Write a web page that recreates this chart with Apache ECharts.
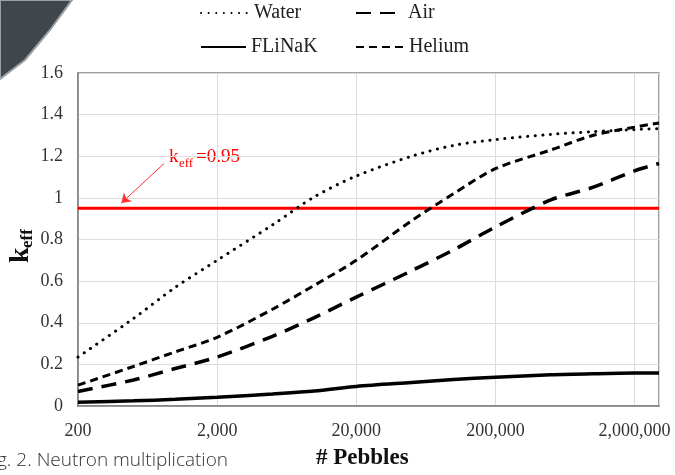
<!DOCTYPE html>
<html>
<head>
<meta charset="utf-8">
<script src="https://cdn.jsdelivr.net/npm/echarts@6/dist/echarts.min.js"></script>
<style>
html, body { margin: 0; padding: 0; background: #fff; }
#main { width: 675px; height: 475px; }
</style>
</head>
<body>
<div id="main"></div>
<script>
// number of pebbles (x), k_eff per coolant (y)
var pebbles = [200, 500, 1000, 2000, 5000, 10000, 20000, 50000, 100000, 200000, 500000, 1000000, 2000000, 3000000];
var water  = [0.235, 0.42, 0.57, 0.70, 0.87, 1.005, 1.105, 1.20, 1.252, 1.28, 1.305, 1.318, 1.328, 1.333];
var air    = [0.07, 0.125, 0.18, 0.235, 0.335, 0.425, 0.523, 0.65, 0.75, 0.86, 0.99, 1.05, 1.13, 1.165];
var flinak = [0.018, 0.025, 0.032, 0.042, 0.058, 0.072, 0.094, 0.113, 0.127, 0.138, 0.15, 0.155, 0.158, 0.158];
var helium = [0.10, 0.19, 0.26, 0.33, 0.465, 0.58, 0.70, 0.89, 1.02, 1.14, 1.23, 1.30, 1.34, 1.36];
var xTicks = [200, 2000, 20000, 200000, 2000000];
var threshold = 0.95;

var chart;
var option;

// x axis is decades above 200 pebbles
function toX(p) {
    return Math.log10(p / 200);
}
function pairs(ys) {
    var out = [];
    for (var i = 0; i < pebbles.length; i++) {
        out.push([toX(pebbles[i]), ys[i]]);
    }
    return out;
}

function initOption() {
    var xMax = toX(pebbles[pebbles.length - 1]);
    var serif = '"Liberation Serif", "Times New Roman", serif';
    // one legend per item so each can sit where the figure has it
    var legendBase = function (name, left, top, w) {
        return {
            data: [name],
            left: left,
            top: top,
            padding: 0,
            itemGap: 0,
            itemWidth: w,
            itemHeight: 12,
            itemStyle: { color: 'rgba(0,0,0,0)', borderColor: 'rgba(0,0,0,0)', borderWidth: 0 },
            textStyle: { fontFamily: serif, fontSize: 20, color: '#222' }
        };
    };
    option = {
        animation: false,
        backgroundColor: '#fff',
        legend: [
            legendBase('Water', 200, 3, 48),
            legendBase('Air', 355, 3, 47),
            legendBase('FLiNaK', 200, 37, 45),
            legendBase('Helium', 355, 37, 48)
        ],
        grid: {
            left: 78, right: 16, top: 73, bottom: 69,
            outerBoundsMode: 'none',
            show: true,
            borderColor: '#808080',
            borderWidth: 1.5
        },
        xAxis: {
            type: 'value',
            min: 0,
            max: xMax,
            interval: 1,
            axisLine: { show: true, lineStyle: { color: '#808080', width: 1.5 } },
            axisTick: { show: false },
            splitLine: { show: true, lineStyle: { color: '#dcdcdc', width: 1 } },
            axisLabel: {
                showMaxLabel: false,
                margin: 16,
                fontFamily: serif,
                fontSize: 18,
                color: '#333',
                formatter: function (v) {
                    var i = Math.round(v);
                    if (Math.abs(v - i) > 1e-6 || i >= xTicks.length) return '';
                    return xTicks[i].toLocaleString('en-US');
                }
            }
        },
        yAxis: {
            type: 'value',
            min: 0,
            max: 1.6,
            interval: 0.2,
            axisLine: { show: true, lineStyle: { color: '#808080', width: 1.5 } },
            axisTick: { show: false },
            splitLine: { show: true, lineStyle: { color: '#dcdcdc', width: 1 } },
            axisLabel: {
                margin: 15,
                fontFamily: serif,
                fontSize: 18,
                color: '#333',
                formatter: function (v) { return String(Math.round(v * 10) / 10); }
            }
        },
        series: [
            {
                name: 'Water', type: 'line', data: pairs(water), smooth: 0.3,
                symbol: 'none', color: '#000',
                lineStyle: { color: '#000', width: 3, type: [0.1, 7.5], cap: 'round' }
            },
            {
                name: 'Air', type: 'line', data: pairs(air), smooth: 0.3,
                symbol: 'none', color: '#000',
                lineStyle: { color: '#000', width: 3.5, type: [15, 9] }
            },
            {
                name: 'FLiNaK', type: 'line', data: pairs(flinak), smooth: 0.3,
                symbol: 'none', color: '#000',
                lineStyle: { color: '#000', width: 3.5, type: 'solid' }
            },
            {
                name: 'Helium', type: 'line', data: pairs(helium), smooth: 0.3,
                symbol: 'none', color: '#000',
                lineStyle: { color: '#000', width: 3, type: [8, 5] }
            },
            {
                name: 'keff', type: 'line', data: [[0, threshold], [xMax, threshold]],
                symbol: 'none', z: 1,
                lineStyle: { color: '#ff0000', width: 3 },
                markLine: {
                    silent: true,
                    symbol: ['none', 'arrow'],
                    symbolSize: 9,
                    label: { show: false },
                    lineStyle: { color: '#ff3030', width: 1, type: 'solid' },
                    data: [[
                        { coord: [toX(830), 1.165] },
                        { coord: [toX(410), 0.975] }
                    ]]
                }
            }
        ],
        graphic: [
            {
                type: 'polygon', z: 100,
                shape: { points: [[0, 0], [72, 0], [50, 30], [25, 60], [0, 79]] },
                style: { fill: '#3f464c', stroke: '#9aa0a5', lineWidth: 2 }
            },
            { type: 'text', left: 169, top: 148, style: { text: 'k', fill: '#ff0000', font: '19px ' + serif } },
            { type: 'text', left: 179, top: 157, style: { text: 'eff', fill: '#ff0000', font: '13px ' + serif } },
            { type: 'text', left: 196, top: 148, style: { text: '=0.95', fill: '#ff0000', font: '19px ' + serif } },
            {
                type: 'group', x: 7, y: 263, rotation: Math.PI / 2,
                children: [
                    { type: 'text', x: 0, y: 0, style: { text: 'k', fill: '#111', font: 'bold 28px ' + serif } },
                    { type: 'text', x: 15, y: 12, style: { text: 'eff', fill: '#111', font: 'bold 17px ' + serif } }
                ]
            },
            { type: 'text', left: 316, top: 447, style: { text: '# Pebbles', fill: '#111', font: 'bold 23px ' + serif } },
            { type: 'text', left: -3, top: 451, style: { text: 'g. 2. Neutron multiplication', fill: '#333', font: '300 19px "Open Sans", "Noto Sans", sans-serif' } }
        ]
    };
}

initOption();
chart = echarts.init(document.getElementById('main'));
chart.setOption(option);
</script>
</body>
</html>
